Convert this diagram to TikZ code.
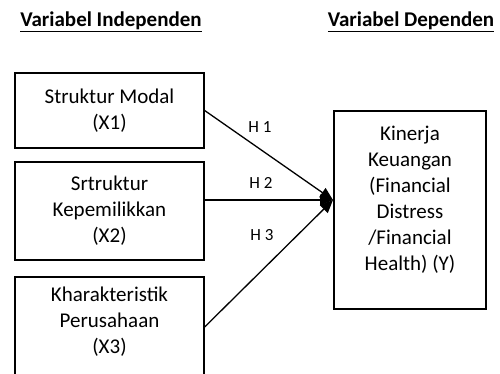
\documentclass[tikz,border=0pt]{standalone}
\usepackage{fontspec}
\setmainfont{Carlito}
\usetikzlibrary{arrows.meta}
\usetikzlibrary{calc}

\begin{document}
\begin{tikzpicture}[x=1pt, y=-1pt,
        every node/.style={font=\fontsize{21}{26}\selectfont},
        varbox/.style={draw, line width=1.3pt, minimum width=189pt, align=center, inner sep=0},
        title/.style={font=\fontsize{21}{26}\selectfont\bfseries, inner sep=0},
        hyp/.style={font=\fontsize{17}{20}\selectfont, inner sep=0},
        link/.style={line width=1.3pt, -{Triangle[length=13pt,width=11pt]}}]
        \clip (0,0) rectangle (500,374);
        \node[title] (indep) at (111,22) {\underline{Variabel Independen}};
        \node[title] (dep) at (411,22) {\underline{Variabel Dependen}};
        \node[varbox, minimum height=75pt] (X1) at (109.5,110.5) {Struktur Modal\\(X1)};
        \node[varbox, minimum height=98pt] (X2) at (109.5,211) {Srtruktur\\Kepemilikkan\\(X2)};
        \node[varbox, minimum height=100pt, text depth=14pt] (X3) at (109.5,327) {Kharakteristik\\Perusahaan\\(X3)};
        \node[draw, line width=1.3pt, minimum width=152pt, minimum height=198pt] (Y) at (410,210) {};
        \node[align=center] (Ytext) at (410,200) {Kinerja\\Keuangan\\(Financial\\Distress\\/Financial\\Health) (Y)};
        \coordinate (tip) at (333,200);
        \draw[link] (X1.east) -- (tip);
        \draw[link] (X2.east |- tip) -- (tip);
        \draw[link] (X3.east) -- (tip);
        \node[hyp] (H1) at (260,127) {H 1};
        \node[hyp] (H2) at (261,183) {H 2};
        \node[hyp] (H3) at (262,235) {H 3};
    \end{tikzpicture}
\end{document}
